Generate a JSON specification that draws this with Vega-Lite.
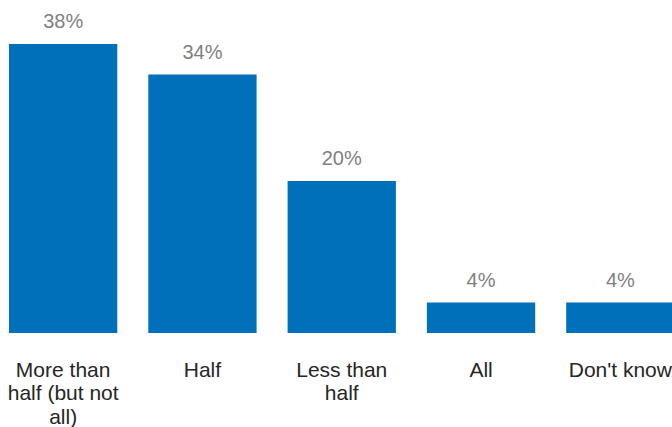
{
  "$schema": "https://vega.github.io/schema/vega-lite/v6.json",
  "autosize": "none",
  "padding": {"left": 0, "top": 0, "right": 0, "bottom": 94},
  "width": 672,
  "height": 333,
  "background": "white",
  "data": {
    "values": [
      {"category": "More than|half (but not|all)", "value": 38, "label": "38%"},
      {"category": "Half", "value": 34, "label": "34%"},
      {"category": "Less than|half", "value": 20, "label": "20%"},
      {"category": "All", "value": 4, "label": "4%"},
      {"category": "Don't know", "value": 4, "label": "4%"}
    ]
  },
  "config": {"view": {"stroke": null}, "font": "Liberation Sans"},
  "encoding": {
    "x": {
      "field": "category",
      "type": "nominal",
      "sort": null,
      "scale": {"range": [0, 683.5], "paddingInner": 0.2225, "paddingOuter": 0.0646},
      "axis": {
        "title": null,
        "domain": false,
        "ticks": false,
        "labelAngle": 0,
        "labelFontSize": 21,
        "labelColor": "#262626",
        "labelFont": "Liberation Sans",
        "labelPadding": 43,
        "labelLineHeight": 23.5,
        "labelBaseline": "alphabetic",
        "labelExpr": "split(datum.label, '|')"
      }
    },
    "y": {
      "field": "value",
      "type": "quantitative",
      "scale": {"domain": [0, 43.8], "nice": false},
      "axis": null
    }
  },
  "layer": [
    {"mark": {"type": "bar", "color": "#0070BA"}},
    {
      "mark": {"type": "text", "baseline": "alphabetic", "dy": -16, "fontSize": 20, "color": "#7F7F7F", "font": "Liberation Sans"},
      "encoding": {"text": {"field": "label"}}
    }
  ]
}
